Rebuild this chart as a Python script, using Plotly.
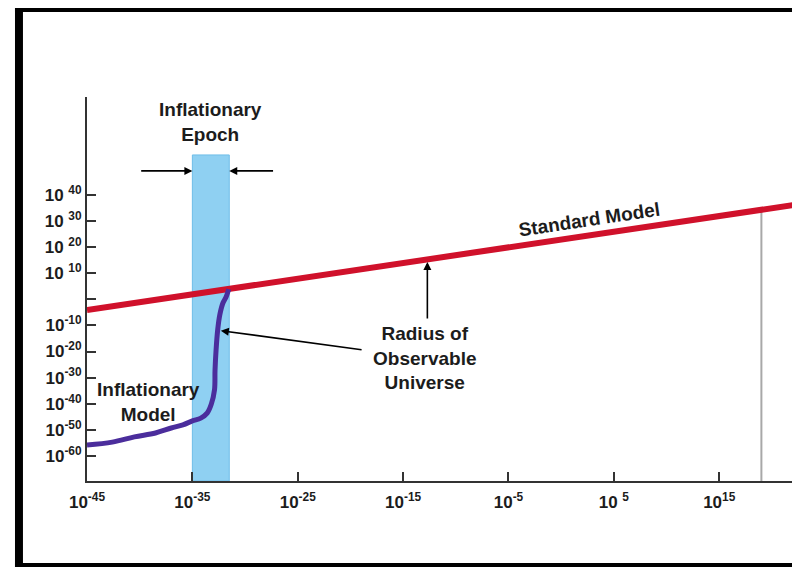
import plotly.graph_objects as go

# exponents (log10): time on x, radius on y
x_ticks = [-45, -35, -25, -15, -5, 5, 15]
x_labels = ["10<sup>-45</sup>", "10<sup>-35</sup>", "10<sup>-25</sup>", "10<sup>-15</sup>",
            "10<sup>-5</sup>", "10 <sup>5</sup>", "10<sup>15</sup>"]
y_ticks = [-60, -50, -40, -30, -20, -10, 0, 10, 20, 30, 40]
y_labels = ["10<sup>-60</sup>", "10<sup>-50</sup>", "10<sup>-40</sup>", "10<sup>-30</sup>",
            "10<sup>-20</sup>", "10<sup>-10</sup>", "", "10 <sup>10</sup>", "10 <sup>20</sup>",
            "10 <sup>30</sup>", "10 <sup>40</sup>"]

standard_t = [-45, 22]
standard_r = [-4.1, 36.1]

inflation_t = [-45, -42.6, -40.5, -38.5, -37.0, -35.9, -35.0, -34.2, -33.6, -33.2, -32.9,
               -32.85, -32.75, -32.6, -32.4, -32.1, -31.8, -31.55]
inflation_r = [-55.8, -54.7, -52.7, -51.2, -49.3, -48.1, -46.6, -45.5, -43.6, -40.1, -34.7,
               -27.1, -19.4, -11.8, -6.0, -1.4, 0.9, 3.9]

epoch_start, epoch_end, epoch_top = -35, -31.5, 55.3
today_t, today_r = 19.0, 34.3

x_range = [-45, 22]
y_range = [-69.6, 77.5]

FONT = "Liberation Sans, Arial, Helvetica, sans-serif"
INK = "#1c1c1c"

fig = go.Figure()

# inflationary epoch band
fig.add_shape(type="rect", x0=epoch_start, x1=epoch_end, y0=y_range[0], y1=epoch_top,
              fillcolor="#8fd0f2", line=dict(color="#6fbde8", width=1), layer="below")

fig.add_trace(go.Scatter(x=[today_t, today_t], y=[y_range[0], today_r], mode="lines",
                         line=dict(color="#a8a8a8", width=2), hoverinfo="skip"))
fig.add_trace(go.Scatter(x=standard_t, y=standard_r, mode="lines",
                         line=dict(color="#d0112b", width=6), name="Standard Model"))
fig.add_trace(go.Scatter(x=inflation_t, y=inflation_r, mode="lines", line_shape="spline",
                         line=dict(color="#4b2d9c", width=5), name="Inflationary Model"))

# black frame round the picture, drawn as filled bars in the margins
frame = dict(type="rect", xref="paper", yref="paper", fillcolor="black", line_width=0,
             layer="above")
fig.add_shape(x0=-0.1020, x1=-0.0907, y0=-0.25, y1=1.25, **frame)   # left
fig.add_shape(x0=-0.1020, x1=1.05, y0=1.2214, y1=1.25, **frame)     # top
fig.add_shape(x0=-0.1020, x1=1.05, y0=-0.25, y1=-0.2135, **frame)   # bottom

txt = dict(family=FONT, size=19, color=INK, weight="bold")
fig.add_annotation(x=(epoch_start + epoch_end) / 2, y=67.9, text="Inflationary<br>Epoch",
                   showarrow=False, font=txt)
fig.add_annotation(x=-39.2, y=-39.3, text="Inflationary<br>Model", showarrow=False, font=txt)
fig.add_annotation(x=-12.9, y=-22.5, text="Radius of<br>Observable<br>Universe",
                   showarrow=False, font=txt)
fig.add_annotation(x=2.7, y=30.4, text="Standard Model", textangle=-8.5, showarrow=False,
                   font=txt)

arrow = dict(showarrow=True, arrowhead=2, arrowsize=1, arrowwidth=1.6, arrowcolor="black",
             axref="x", ayref="y", text="", standoff=0)
fig.add_annotation(x=epoch_start, y=49.2, ax=-40, ay=49.2, **arrow)
fig.add_annotation(x=epoch_end, y=49.2, ax=-27.2, ay=49.2, **arrow)
fig.add_annotation(x=-12.7, y=14.3, ax=-12.7, ay=-7.9, **arrow)
fig.add_annotation(x=-32.3, y=-12.0, ax=-18.8, ay=-19.4, **arrow)

tickfont = dict(family=FONT, size=17, color=INK, weight="bold")
fig.update_xaxes(range=x_range, tickvals=x_ticks, ticktext=x_labels, ticks="inside", ticklen=9,
                 tickwidth=2, tickcolor="#333", showline=True, linewidth=2, linecolor="#333",
                 showgrid=False, zeroline=False, tickfont=tickfont, ticklabelstandoff=5)
fig.update_yaxes(range=y_range, tickvals=y_ticks, ticktext=y_labels, ticks="inside", ticklen=9,
                 tickwidth=2, tickcolor="#333", showline=True, linewidth=2, linecolor="#333",
                 showgrid=False, zeroline=False, tickfont=tickfont)

# the page adds an 8px body margin, so the figure is 8px smaller each way
fig.update_layout(width=792, height=559, margin=dict(l=79, r=7, t=89, b=86),
                  paper_bgcolor="white", plot_bgcolor="white", showlegend=False)

fig.write_html("out.html")
